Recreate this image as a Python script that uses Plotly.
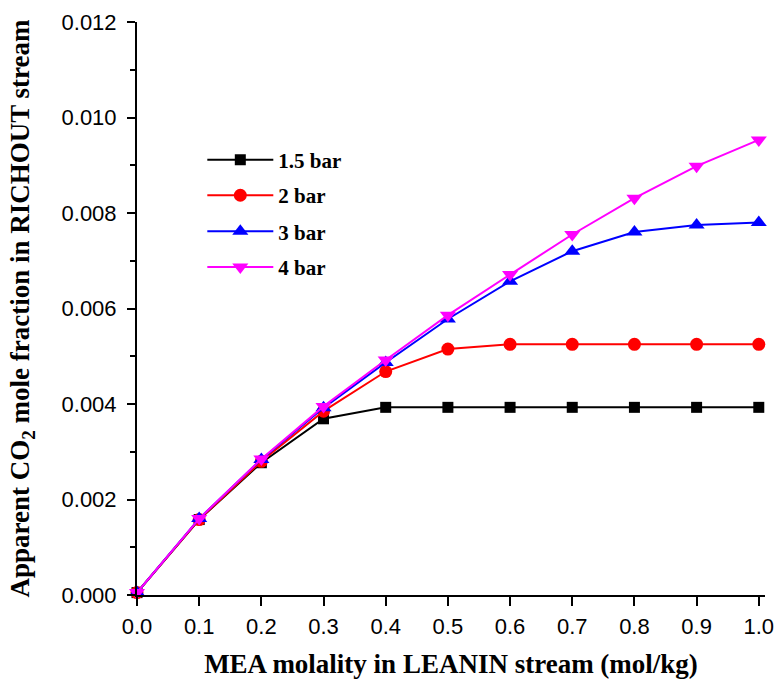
import plotly.graph_objects as go

# MEA molality in the LEANIN stream (mol/kg)
molality = [0.0, 0.1, 0.2, 0.3, 0.4, 0.5, 0.6, 0.7, 0.8, 0.9, 1.0]

# Apparent CO2 mole fraction in the RICHOUT stream at each pressure
co2_1p5bar = [0.00005, 0.00158, 0.00277, 0.00369, 0.00393, 0.00393, 0.00393, 0.00393, 0.00393, 0.00393, 0.00393]
co2_2bar = [0.00005, 0.00158, 0.00280, 0.00385, 0.00468, 0.00515, 0.00525, 0.00525, 0.00525, 0.00525, 0.00525]
co2_3bar = [0.00005, 0.00160, 0.00284, 0.00392, 0.00487, 0.00578, 0.00657, 0.00720, 0.00760, 0.00775, 0.00780]
co2_4bar = [0.00005, 0.00160, 0.00285, 0.00395, 0.00492, 0.00586, 0.00671, 0.00755, 0.00831, 0.00898, 0.00953]

series_names = ["1.5 bar", "2 bar", "3 bar", "4 bar"]
series_values = [co2_1p5bar, co2_2bar, co2_3bar, co2_4bar]
series_colors = ["#000000", "#ff0000", "#0000ff", "#ff00ff"]
series_symbols = ["square", "circle", "triangle-up", "triangle-down"]
series_sizes = [11, 13, 14, 14]

x_ticks = [0.0, 0.1, 0.2, 0.3, 0.4, 0.5, 0.6, 0.7, 0.8, 0.9, 1.0]
y_ticks = [0.000, 0.002, 0.004, 0.006, 0.008, 0.010, 0.012]

# one legend box per series so the entries can be spaced freely
legend_ids = ["legend", "legend2", "legend3", "legend4"]
legend_y = [0.759, 0.697, 0.634, 0.572]

legend_font = dict(family="Liberation Serif, Times New Roman, serif", size=21, color="#000000")

fig = go.Figure()
for name, vals, col, sym, sz, lid in zip(series_names, series_values, series_colors,
                                          series_symbols, series_sizes, legend_ids):
    fig.add_trace(go.Scatter(
        x=molality, y=vals, name=f"<b>{name}</b>", mode="lines+markers",
        line=dict(color=col, width=2),
        marker=dict(symbol=sym, size=sz, color=col, line=dict(width=0)),
        cliponaxis=False, legend=lid,
    ))

legend_layout = {}
for lid, ly in zip(legend_ids, legend_y):
    legend_layout[lid] = dict(
        x=0.104, y=ly, xanchor="left", yanchor="middle",
        font=legend_font, bgcolor="rgba(0,0,0,0)", itemwidth=66,
    )

tick_font = dict(family="Liberation Sans, Arial, sans-serif", size=22, color="#000000")
title_font = dict(family="Liberation Serif, Times New Roman, serif", size=27, color="#000000")

fig.update_layout(
    width=784, height=684,
    margin=dict(l=137, r=10, t=22, b=87),
    paper_bgcolor="white", plot_bgcolor="white",
    showlegend=True,
    **legend_layout,
    xaxis=dict(
        range=[0, 1.01], tickvals=x_ticks, ticktext=[f"{v:.1f}" for v in x_ticks],
        showgrid=False, zeroline=False, showline=True, linecolor="#000000", linewidth=2,
        ticks="outside", ticklen=9, tickwidth=2, tickcolor="#000000",
        tickfont=tick_font, ticklabelstandoff=2,
        title=dict(text="<b>MEA molality in LEANIN stream (mol/kg)</b>", font=title_font, standoff=16),
    ),
    yaxis=dict(
        range=[0, 0.012], tickvals=y_ticks, ticktext=[f"{v:.3f}" for v in y_ticks],
        showgrid=False, zeroline=False, showline=True, linecolor="#000000", linewidth=2,
        ticks="outside", ticklen=8, tickwidth=2, tickcolor="#000000",
        tickfont=tick_font, ticklabelstandoff=6,
        minor=dict(dtick=0.001, ticks="outside", ticklen=5, tickwidth=2, tickcolor="#000000", showgrid=False),
        title=dict(text="<b>Apparent CO<sub>2</sub> mole fraction in RICHOUT stream</b>", font=title_font, standoff=24),
    ),
)

fig.write_html("out.html")
